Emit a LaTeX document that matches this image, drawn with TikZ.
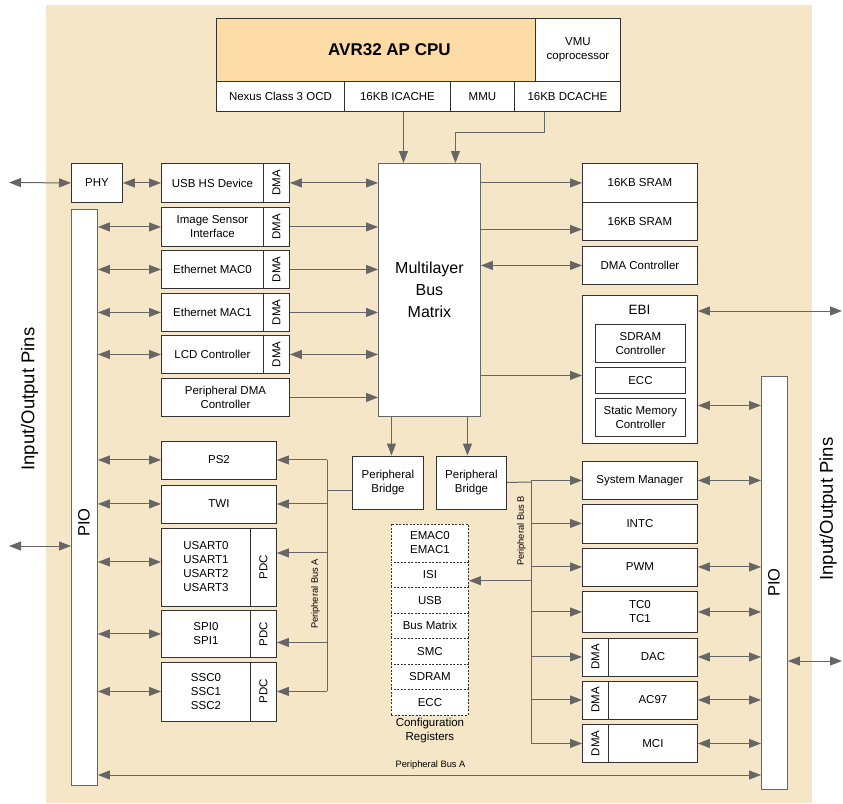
\documentclass[tikz,border=0pt]{standalone}
\usepackage{fontspec}
\setmainfont{Liberation Sans}
\usepackage{graphicx}
\usepackage{tikz}
\usetikzlibrary{arrows.meta}
\definecolor{chipbg}{RGB}{246,230,200}
\definecolor{cpufill}{RGB}{253,219,166}
\definecolor{wiregray}{RGB}{102,102,102}
\definecolor{boxline}{RGB}{50,50,50}
\newcommand{\sidetext}[1]{\rotatebox{90}{#1}}
\tikzset{
  busline/.style={line width=1.0pt, draw=wiregray},
  every node/.style={inner sep=0pt}
}

\begin{document}
\begin{tikzpicture}[
  x=1pt, y=-1pt,
  font=\fontsize{11.5}{14}\selectfont,
  blkbox/.style={draw=boxline, line width=0.9pt, fill=white, anchor=north west, align=center},
  dmacell/.style={blkbox, minimum width=26pt},
  cfgbox/.style={blkbox, dash pattern=on 2pt off 1.5pt, minimum width=77pt, minimum height=25.5pt},
  piobox/.style={blkbox, draw=wiregray, minimum width=26pt},
  bigtext/.style={font=\fontsize{18.5}{22}\selectfont, rotate=90},
  piotext/.style={font=\fontsize{16.5}{20}\selectfont, rotate=90},
  buslabel/.style={font=\fontsize{9.3}{11}\selectfont},
  selarrow/.style={busline, -{Triangle[length=12pt,width=9pt]}},
  duoarrow/.style={busline, {Triangle[length=12pt,width=9pt]}-{Triangle[length=12pt,width=9pt]}}
]

\useasboundingbox (0,0) rectangle (843,803);
\fill[chipbg] (46,5) rectangle (812,803);

% processor
\node[blkbox, fill=cpufill, minimum width=319pt, minimum height=63pt, font=\fontsize{17}{20}\selectfont\bfseries] (cpu) at (216,18) {\hspace*{27pt}AVR32 AP CPU};
\node[blkbox, minimum width=85pt, minimum height=63pt] (vmu) at (535,18) {VMU\\coprocessor};
\node[blkbox, minimum width=128pt, minimum height=30pt] (nexus) at (216,81) {Nexus Class 3 OCD};
\node[blkbox, minimum width=106pt, minimum height=30pt] (icache) at (344,81) {16KB ICACHE};
\node[blkbox, minimum width=64pt, minimum height=30pt] (mmu) at (450,81) {MMU};
\node[blkbox, minimum width=106pt, minimum height=30pt] (dcache) at (514,81) {16KB DCACHE};

% bus matrix
\node[blkbox, draw=wiregray, minimum width=102pt, minimum height=253pt, font=\fontsize{16}{22}\selectfont] (matrix) at (378,163) {Multilayer\\Bus\\Matrix};

% left masters
\node[blkbox, minimum width=51pt, minimum height=39pt] (phy) at (71,163) {PHY};
\node[blkbox, minimum width=102pt, minimum height=39pt] (usb) at (161,163) {USB HS Device};
\node[dmacell, minimum height=39pt] (usbdma) at (263,163) {\sidetext{DMA}};
\node[blkbox, minimum width=102pt, minimum height=39pt] (isi) at (161,207) {Image Sensor\\Interface};
\node[dmacell, minimum height=39pt] (isidma) at (263,207) {\sidetext{DMA}};
\node[blkbox, minimum width=102pt, minimum height=38pt] (mac0) at (161,250) {Ethernet MAC0};
\node[dmacell, minimum height=38pt] (mac0dma) at (263,250) {\sidetext{DMA}};
\node[blkbox, minimum width=102pt, minimum height=38pt] (mac1) at (161,293) {Ethernet MAC1};
\node[dmacell, minimum height=38pt] (mac1dma) at (263,293) {\sidetext{DMA}};
\node[blkbox, minimum width=102pt, minimum height=38pt] (lcd) at (161,335) {LCD Controller};
\node[dmacell, minimum height=38pt] (lcddma) at (263,335) {\sidetext{DMA}};
\node[blkbox, minimum width=128pt, minimum height=38pt] (pdca) at (161,378) {Peripheral DMA\\Controller};

% left PIO and pins
\node[piobox, minimum height=576pt] (pioleft) at (71,209) {};
\node[piotext] (pioleftlbl) at (84,522.5) {PIO};
\node[bigtext] (pinsleft) at (29.5,399) {Input/Output Pins};

% peripheral bus A side
\node[blkbox, minimum width=115pt, minimum height=38pt] (ps2) at (161,440.5) {PS2};
\node[blkbox, minimum width=115pt, minimum height=38pt] (twi) at (161,484.5) {TWI};
\node[blkbox, minimum width=89pt, minimum height=78pt] (usart) at (161,527.5) {USART0\\USART1\\USART2\\USART3};
\node[dmacell, minimum height=78pt] (usartpdc) at (250,527.5) {\sidetext{PDC}};
\node[blkbox, minimum width=89pt, minimum height=47pt] (spi) at (161,610) {SPI0\\SPI1};
\node[dmacell, minimum height=47pt] (spipdc) at (250,610) {\sidetext{PDC}};
\node[blkbox, minimum width=89pt, minimum height=59pt] (ssc) at (161,661.5) {SSC0\\SSC1\\SSC2};
\node[dmacell, minimum height=59pt] (sscpdc) at (250,661.5) {\sidetext{PDC}};

% bridges
\node[blkbox, minimum width=71pt, minimum height=53pt] (bridgea) at (352,455.5) {Peripheral\\Bridge};
\node[blkbox, minimum width=70pt, minimum height=53pt] (bridgeb) at (436,455.5) {Peripheral\\Bridge};

% configuration registers
\node[cfgbox, minimum height=38pt] (cfgemac) at (391,523.5) {EMAC0\\EMAC1};
\node[cfgbox] (cfgisi) at (391,561.5) {ISI};
\node[cfgbox] (cfgusb) at (391,587) {USB};
\node[cfgbox] (cfgmatrix) at (391,612.5) {Bus Matrix};
\node[cfgbox] (cfgsmc) at (391,638) {SMC};
\node[cfgbox] (cfgsdram) at (391,663.5) {SDRAM};
\node[cfgbox] (cfgecc) at (391,689) {ECC};
\node[anchor=north, align=center, inner sep=3pt] (cfglbl) at (cfgecc.south) {Configuration\\Registers};

% memories and EBI
\node[blkbox, minimum width=115pt, minimum height=39pt] (srama) at (582,163) {16KB SRAM};
\node[blkbox, minimum width=115pt, minimum height=38pt] (sramb) at (582,202) {16KB SRAM};
\node[blkbox, minimum width=115pt, minimum height=38pt] (dmac) at (582,246) {DMA Controller};
\node[blkbox, minimum width=115pt, minimum height=148pt] (ebi) at (582,295) {};
\node[font=\fontsize{13.5}{16}\selectfont] (ebilbl) at (639.5,310) {EBI};
\node[blkbox, minimum width=90pt, minimum height=38pt] (sdramc) at (595,324) {SDRAM\\Controller};
\node[blkbox, minimum width=90pt, minimum height=26pt] (ecc) at (595,367) {ECC};
\node[blkbox, minimum width=90pt, minimum height=38pt] (smc) at (595,397.5) {Static Memory\\Controller};

% peripheral bus B side
\node[blkbox, minimum width=115pt, minimum height=38pt] (sysman) at (582,461) {System Manager};
\node[blkbox, minimum width=115pt, minimum height=39pt] (intc) at (582,503.5) {INTC};
\node[blkbox, minimum width=115pt, minimum height=38pt] (pwm) at (582,547.5) {PWM};
\node[blkbox, minimum width=115pt, minimum height=41pt] (tc) at (582,591) {TC0\\TC1};
\node[dmacell, minimum height=38pt] (dacdma) at (582,637.5) {\sidetext{DMA}};
\node[blkbox, minimum width=89pt, minimum height=38pt] (dac) at (608,637.5) {DAC};
\node[dmacell, minimum height=38pt] (ac97dma) at (582,680.5) {\sidetext{DMA}};
\node[blkbox, minimum width=89pt, minimum height=38pt] (ac97) at (608,680.5) {AC97};
\node[dmacell, minimum height=38pt] (mcidma) at (582,724) {\sidetext{DMA}};
\node[blkbox, minimum width=89pt, minimum height=38pt] (mci) at (608,724) {MCI};

% right PIO and pins
\node[piobox, minimum height=413pt] (pioright) at (761,376) {};
\node[piotext] (piorightlbl) at (774,582.5) {PIO};
\node[bigtext] (pinsright) at (828,509) {Input/Output Pins};

% bus labels
\node[buslabel, rotate=90] (busalbl) at (315.5,594) {Peripheral Bus A};
\node[buslabel, rotate=90] (busblbl) at (521.5,531) {Peripheral Bus B};
\node[buslabel] (buslowlbl) at (430.5,765) {Peripheral Bus A};

% free ends
\coordinate (extphy) at (9,182.5);
\coordinate (extpio) at (9,546);
\coordinate (extebi) at (842,311);
\coordinate (extpior) at (842,661);
\coordinate (busa) at (327,490);
\coordinate (busb) at (531,482);
\coordinate (buslow) at (430,775);

% processor to matrix
\draw[selarrow] ([xshift=6pt]icache.south) -- ([xshift=6pt]icache.south |- matrix.north);
\draw[selarrow] ([xshift=-23pt]dcache.south) -- ++(0,21) -| ([xshift=26pt]matrix.north);

% masters to matrix
\draw[duoarrow] (extphy) -- (phy.west);
\draw[duoarrow] (phy.east) -- (usb.west);
\draw[duoarrow] (usbdma.east) -- (usbdma.east -| matrix.west);
\draw[selarrow] (isidma.east) -- (isidma.east -| matrix.west);
\draw[selarrow] (mac0dma.east) -- (mac0dma.east -| matrix.west);
\draw[selarrow] (mac1dma.east) -- (mac1dma.east -| matrix.west);
\draw[duoarrow] (lcddma.east) -- (lcddma.east -| matrix.west);
\draw[selarrow] (pdca.east) -- (pdca.east -| matrix.west);

% left PIO links
\draw[duoarrow] (extpio) -- (extpio -| pioleft.west);
\draw[duoarrow] (isi.west -| pioleft.east) -- (isi.west);
\draw[duoarrow] (mac0.west -| pioleft.east) -- (mac0.west);
\draw[duoarrow] (mac1.west -| pioleft.east) -- (mac1.west);
\draw[duoarrow] (lcd.west -| pioleft.east) -- (lcd.west);
\draw[duoarrow] (ps2.west -| pioleft.east) -- (ps2.west);
\draw[duoarrow] (twi.west -| pioleft.east) -- (twi.west);
\draw[duoarrow] ([yshift=5pt]usart.west -| pioleft.east) -- ([yshift=5pt]usart.west);
\draw[duoarrow] (spi.west -| pioleft.east) -- (spi.west);
\draw[duoarrow] (ssc.west -| pioleft.east) -- (ssc.west);

% matrix to slaves
\draw[selarrow] (srama.west -| matrix.east) -- (srama.west);
\draw[selarrow] ([yshift=-8pt]sramb.west -| matrix.east) -- ([yshift=-8pt]sramb.west);
\draw[duoarrow] (dmac.west -| matrix.east) -- (dmac.west);
\draw[selarrow] ([yshift=-6pt]ebi.west -| matrix.east) -- ([yshift=-6pt]ebi.west);
\draw[duoarrow] (ebi.east |- extebi) -- (extebi);
\draw[duoarrow] ([yshift=-36pt]ebi.east) -- ([yshift=-36pt]ebi.east -| pioright.west);
\draw[selarrow] ([xshift=3.5pt]bridgea.north |- matrix.south) -- ([xshift=3.5pt]bridgea.north);
\draw[selarrow] ([xshift=-4pt]bridgeb.north |- matrix.south) -- ([xshift=-4pt]bridgeb.north);

% peripheral bus A
\draw[busline] (bridgea.west |- busa) -- (busa);
\draw[busline] (busa |- ps2.east) -- (busa |- sscpdc.east);
\draw[selarrow] (busa |- ps2.east) -- (ps2.east);
\draw[selarrow] (busa |- twi.east) -- (twi.east);
\draw[selarrow] ([yshift=14pt]busa |- usartpdc.east) -- ([yshift=14pt]usartpdc.east);
\draw[selarrow] ([yshift=-8.5pt]busa |- spipdc.east) -- ([yshift=-8.5pt]spipdc.east);
\draw[selarrow] (busa |- sscpdc.east) -- (sscpdc.east);

% peripheral bus B
\draw[busline] (bridgeb.east) -- (busb);
\draw[busline] (busb |- sysman.west) -- (busb |- mcidma.west);
\draw[selarrow] (busb |- sysman.west) -- (sysman.west);
\draw[selarrow] (busb |- intc.west) -- (intc.west);
\draw[selarrow] (busb |- pwm.west) -- (pwm.west);
\draw[selarrow] (busb |- tc.west) -- (tc.west);
\draw[selarrow] (busb |- dacdma.west) -- (dacdma.west);
\draw[selarrow] (busb |- ac97dma.west) -- (ac97dma.west);
\draw[selarrow] (busb |- mcidma.west) -- (mcidma.west);
\draw[selarrow] ([yshift=-6pt]busb |- cfgisi.east) -- ([yshift=-6pt]cfgisi.east);

% right PIO links
\draw[duoarrow] (sysman.east) -- (sysman.east -| pioright.west);
\draw[duoarrow] (pwm.east) -- (pwm.east -| pioright.west);
\draw[duoarrow] (tc.east) -- (tc.east -| pioright.west);
\draw[duoarrow] (dac.east) -- (dac.east -| pioright.west);
\draw[duoarrow] (ac97.east) -- (ac97.east -| pioright.west);
\draw[duoarrow] (mci.east) -- (mci.east -| pioright.west);
\draw[duoarrow] (pioright.east |- extpior) -- (extpior);
\draw[duoarrow] (pioleft.east |- buslow) -- (pioright.west |- buslow);

\end{tikzpicture}
\end{document}
